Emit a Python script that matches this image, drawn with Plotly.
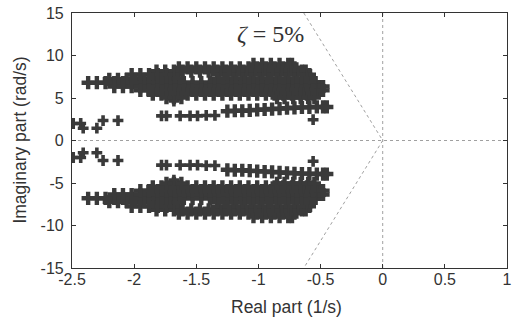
import plotly.graph_objects as go

# Closed-loop eigenvalues in the upper half-plane; the lower half-plane
# holds their complex conjugates.
band_rows_im = [8.95, 8.55, 8.15, 7.75, 7.2, 6.8, 6.35, 5.9, 5.45, 5.05]
band_rows_re = [
    [-1.04, -0.97, -0.90, -0.83, -0.76, -0.73],
    [-1.64, -1.57, -1.50, -1.43, -1.36, -1.29, -1.22, -1.15, -1.08, -1.01,
     -0.94, -0.87, -0.80, -0.75, -0.71],
    [-1.82, -1.75, -1.68, -1.61, -1.54, -1.47, -1.40, -1.33, -1.26, -1.19,
     -1.12, -1.05, -0.98, -0.91, -0.84, -0.77, -0.70, -0.65, -0.62],
    [-2.02, -1.95, -1.88, -1.81, -1.74, -1.67, -1.65, -1.33, -1.27, -1.20,
     -1.13, -1.06, -0.99, -0.92, -0.85, -0.78, -0.71, -0.64, -0.59],
    [-2.20, -2.13, -2.06, -1.99, -1.92, -1.85, -1.78, -1.71, -1.65, -1.33,
     -1.27, -1.20, -1.13, -1.06, -0.99, -0.92, -0.85, -0.78, -0.71, -0.64,
     -0.58],
    [-2.37, -2.30, -2.23, -2.16, -2.09, -2.02, -1.95, -1.88, -1.81, -1.74,
     -1.67, -1.60, -1.53, -1.46, -1.39, -1.32, -1.25, -1.18, -1.11, -1.04,
     -0.97, -0.90, -0.83, -0.76, -0.69, -0.62, -0.57, -0.54],
    [-2.16, -2.09, -2.02, -1.95, -1.88, -1.81, -1.74, -1.67, -1.60, -1.53,
     -1.46, -1.39, -1.32, -1.25, -1.18, -1.11, -1.04, -0.97, -0.90, -0.83,
     -0.76, -0.69, -0.62, -0.55, -0.51, -0.48],
    [-1.95, -1.88, -1.81, -1.74, -1.67, -1.60, -1.53, -1.46, -1.39, -1.32,
     -1.25, -1.18, -1.11, -1.04, -0.97, -0.90, -0.83, -0.76, -0.69, -0.62,
     -0.56, -0.51, -0.48],
    [-1.85, -1.78, -1.71, -1.64, -1.57, -1.50, -1.43, -1.36, -1.29, -1.22,
     -1.15, -1.08, -1.01, -0.94, -0.87, -0.80, -0.73, -0.66, -0.61, -0.57],
    [-1.74, -1.68, -1.62, -0.85, -0.79, -0.72, -0.66, -0.60, -0.55],
]

# Lower locus branch just above the real axis
strip_re = [-1.25, -1.19, -1.13, -1.07, -1.01, -0.95, -0.89, -0.83, -0.77,
            -0.71, -0.65, -0.59, -0.53, -0.48, -0.45]
strip_im = [3.45, 3.50, 3.50, 3.55, 3.60, 3.65, 3.70, 3.75, 3.80,
            3.85, 3.90, 3.90, 3.95, 3.95, 3.95]

# Scattered low-frequency modes
sparse_re = [-1.78, -1.74, -1.63, -1.55, -1.49, -1.42, -1.35, -1.68,
             -0.56,
             -2.49, -2.43, -2.41, -2.30, -2.25, -2.13]
sparse_im = [2.90, 2.90, 2.90, 2.90, 2.90, 2.95, 2.95, 4.65,
             2.45,
             2.00, 2.00, 1.45, 1.45, 2.35, 2.35]

# Constant-damping guide (zeta = 5%) and axes through the origin
zeta_re = [-0.635, 0.0, -0.635]
zeta_im = [15.0, 0.0, -15.0]

x_ticks = [-2.5, -2, -1.5, -1, -0.5, 0, 0.5, 1]
x_tick_text = ["-2.5", "-2", "-1.5", "-1", "-0.5", "0", "0.5", "1"]
y_ticks = [-15, -10, -5, 0, 5, 10, 15]
y_tick_text = ["-15", "-10", "-5", "0", "5", "10", "15"]

band_re, band_im = [], []
for im, row in zip(band_rows_im, band_rows_re):
    band_re += row
    band_im += [im] * len(row)
band_re += strip_re
band_im += strip_im

guide = dict(color="#a0a0a0", width=1, dash="dot")
ink = "#333333"
mark = "#3a3a3a"

fig = go.Figure()
fig.add_trace(go.Scatter(x=[-2.5, 1], y=[0, 0], mode="lines", line=guide,
                         hoverinfo="skip"))
fig.add_trace(go.Scatter(x=[0, 0], y=[-15, 15], mode="lines", line=guide,
                         hoverinfo="skip"))
fig.add_trace(go.Scatter(x=zeta_re, y=zeta_im, mode="lines", line=guide,
                         hoverinfo="skip"))
# eigenvalues together with their complex conjugates
fig.add_trace(go.Scatter(
    x=band_re + band_re, y=band_im + [-v for v in band_im], mode="markers",
    marker=dict(symbol="cross", size=11, color=mark, line=dict(width=0)),
))
fig.add_trace(go.Scatter(
    x=sparse_re + sparse_re, y=sparse_im + [-v for v in sparse_im],
    mode="markers",
    marker=dict(symbol="cross", size=9, color=mark, line=dict(width=0)),
))

fig.add_annotation(x=-0.9, y=12.5, text="<i>ζ</i> = 5%", showarrow=False,
                   font=dict(family="Liberation Serif", size=24, color=ink))

title_font = dict(family="Liberation Sans", size=17.5, color=ink)
fig.add_annotation(xref="paper", yref="paper", x=0.493, y=-0.152,
                   xanchor="center", yanchor="middle", showarrow=False,
                   text="Real part (1/s)", font=title_font)
fig.add_annotation(xref="paper", yref="paper", x=-0.1216, y=0.5,
                   xanchor="center", yanchor="middle", showarrow=False,
                   textangle=-90, text="Imaginary part (rad/s)",
                   font=title_font)

axis_common = dict(
    showgrid=False, zeroline=False, showline=True, mirror="ticks",
    linecolor=ink, linewidth=1.2, ticks="inside", ticklen=4,
    tickcolor=ink, tickfont=dict(family="Liberation Sans", size=16, color=ink),
)
fig.update_xaxes(range=[-2.5, 1], tickvals=x_ticks, ticktext=x_tick_text,
                 ticklabelstandoff=-3, **axis_common)
fig.update_yaxes(range=[-15, 15], tickvals=y_ticks, ticktext=y_tick_text,
                 ticklabelstandoff=4, **axis_common)

fig.update_layout(
    width=515, height=324, showlegend=False,
    margin=dict(l=72, r=8, t=13, b=56, autoexpand=False),
    paper_bgcolor="white", plot_bgcolor="white",
)

fig.write_html("out.html")
